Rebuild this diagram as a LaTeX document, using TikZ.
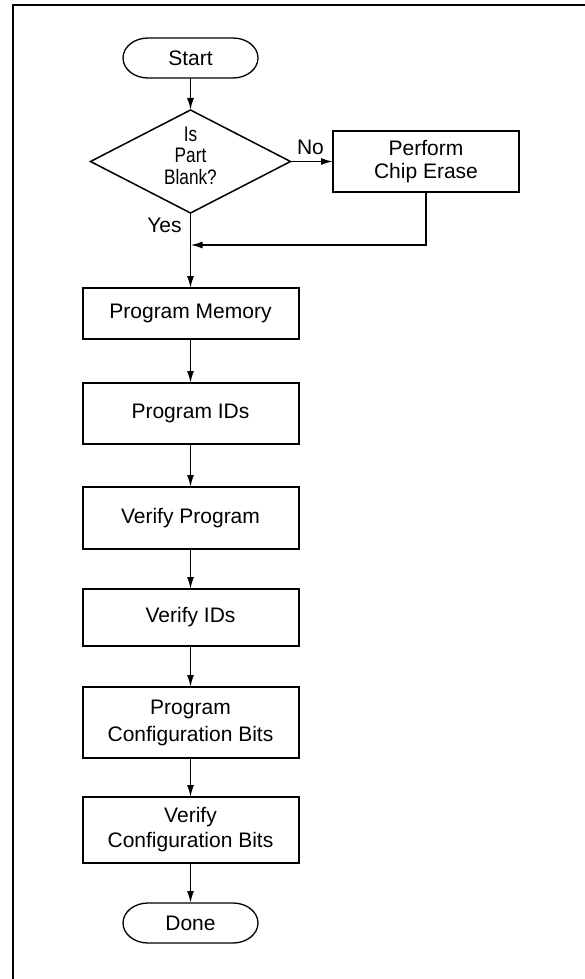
\documentclass[tikz,border=0pt]{standalone}
\usepackage{fontspec}
\usepackage{graphicx}
\setmainfont{Liberation Sans}
\usetikzlibrary{arrows.meta,shapes.geometric}

\tikzset{
  txt/.style={font=\fontsize{21}{26}\selectfont, align=center, inner sep=0pt},
  procbox/.style={draw, line width=2pt, rectangle, minimum width=216pt, inner sep=0pt, outer sep=0pt,
                  font=\fontsize{21}{26}\selectfont, align=center},
  termnode/.style={rectangle, minimum width=135pt, minimum height=40pt, inner sep=0pt, outer sep=0pt,
                   font=\fontsize{21}{26}\selectfont},
  termline/.style={line width=1.3pt},
  decision/.style={draw, diamond, line width=1.5pt, minimum width=200pt, minimum height=103pt,
                   inner sep=0pt, outer sep=0pt},
  flow/.style={line width=1.7pt, -{Latex[length=12pt,width=7pt]}},
  lbl/.style={font=\fontsize{21}{26}\selectfont, inner sep=0pt},
  frameline/.style={line width=2pt}
}

% outline of a start/end terminal around a node
\newcommand\termoutline[1]{%
  \draw[termline] ([xshift=25pt]#1.north west) -- ([xshift=-25pt]#1.north east)
    arc[start angle=90, end angle=-90, x radius=25pt, y radius=20pt]
    -- ([xshift=25pt]#1.south west)
    arc[start angle=270, end angle=90, x radius=25pt, y radius=20pt] -- cycle;}

\begin{document}
\begin{tikzpicture}[x=1pt, y=-1pt]
  \useasboundingbox (0,0) rectangle (585,979);

  % page frame (top and left rules)
  \draw[frameline] (585,5) -| (12.5,979);

  % terminals
  \node[termnode] (start) at (190.5,58) {Start};
  \termoutline{start}

  % decision
  \node[decision] (dia) at (190.5,161.5) {};
  \node[txt] (diatext) at (190.5,159) {\scalebox{0.82}[1]{\fontsize{21}{21}\selectfont
      \begin{tabular}{@{}c@{}}Is\\Part\\Blank?\end{tabular}}};

  \node[procbox, minimum width=186pt, minimum height=61pt, font=\fontsize{21}{23}\selectfont]
       (erase) at (426,161.5) {Perform\\Chip Erase};

  \coordinate (merge) at (190.5,245);

  % process steps
  \node[procbox, minimum height=51pt] (pm)  at (190.5,313.5) {Program Memory};
  \node[procbox, minimum height=61pt] (pid) at (190.5,413.5) {Program IDs};
  \node[procbox, minimum height=62pt] (vp)  at (190.5,518)   {Verify Program};
  \node[procbox, minimum height=57pt] (vid) at (190.5,617.5) {Verify IDs};
  \node[procbox, minimum height=71pt, font=\fontsize{21}{27}\selectfont]
       (pcb) at (190.5,722.5) {Program\\Configuration Bits};
  \node[procbox, minimum height=66pt, font=\fontsize{21}{25}\selectfont]
       (vcb) at (190.5,830) {Verify\\Configuration Bits};

  \node[termnode] (done) at (190.5,923) {Done};
  \termoutline{done}

  % branch labels
  \node[lbl] (no)  at (310.5,147)   {No};
  \node[lbl] (yes) at (164.5,225.5) {Yes};

  % connectors
  \draw[flow] (start) -- (dia);
  \draw[flow] (dia.east) -- (dia.east -| erase.west);
  \draw[flow] (erase.south) |- (merge);
  \draw[flow] (dia.south) -- (pm.north);
  \draw[flow] (pm) -- (pid);
  \draw[flow] (pid) -- (vp);
  \draw[flow] (vp) -- (vid);
  \draw[flow] (vid) -- (pcb);
  \draw[flow] (pcb) -- (vcb);
  \draw[flow] (vcb) -- (done);
\end{tikzpicture}
\end{document}
